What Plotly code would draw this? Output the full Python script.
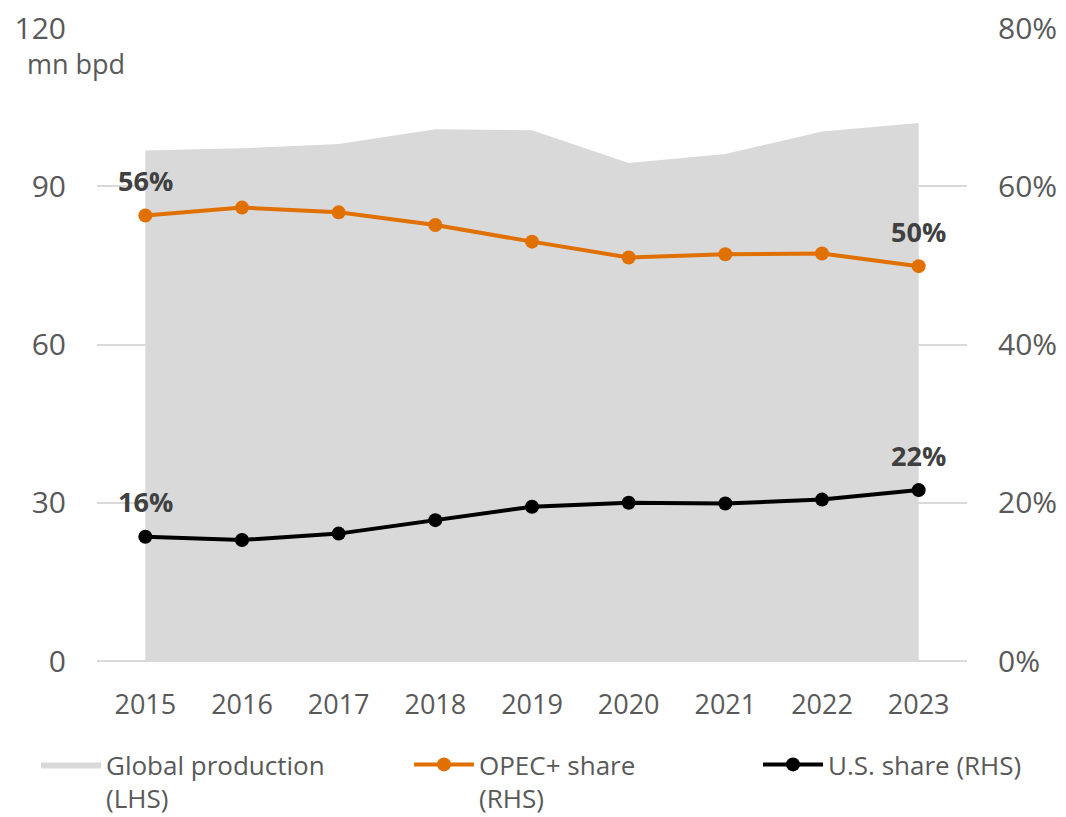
import plotly.graph_objects as go

years = ["2015", "2016", "2017", "2018", "2019", "2020", "2021", "2022", "2023"]
global_prod = [96.8, 97.2, 98.0, 100.8, 100.6, 94.4, 96.1, 100.4, 102.0]
opec_share = [56.3, 57.3, 56.7, 55.1, 53.0, 51.0, 51.4, 51.5, 49.9]
us_share = [15.7, 15.3, 16.1, 17.8, 19.5, 20.0, 19.9, 20.4, 21.6]
left_ticks = [0, 30, 60, 90, 120]
right_ticks = [0, 20, 40, 60, 80]

grey_txt = "#595959"
font_fam = "Open Sans, Noto Sans, sans-serif"
W, H = 1066, 817

fig = go.Figure()

fig.add_trace(go.Scatter(
    x=years, y=global_prod, name="Global production<br>(LHS)",
    mode="lines", fill="tozeroy", fillcolor="#d9d9d9",
    line=dict(width=0, color="#d9d9d9"), yaxis="y", legend="legend"))

fig.add_trace(go.Scatter(
    x=years, y=opec_share, name="OPEC+ share<br>(RHS)",
    mode="lines+markers", line=dict(color="#e07000", width=4),
    marker=dict(size=14, color="#e07000"), yaxis="y2", legend="legend"))

fig.add_trace(go.Scatter(
    x=years, y=us_share, name="U.S. share (RHS)",
    mode="lines+markers", line=dict(color="#000000", width=4),
    marker=dict(size=14, color="#000000"), yaxis="y2", legend="legend2"))

# end point labels (x given as category index: "2015" strings get read as indices)
for series in (opec_share, us_share):
    for i in (0, len(years) - 1):
        fig.add_annotation(x=i, y=series[i], xref="x", yref="y2",
                           text="<b>%d%%</b>" % round(series[i]), showarrow=False,
                           yshift=35, font=dict(size=27, color="#404040", family=font_fam))

# plot box in px: left 97, right 967, top 28, bottom 661
x0, x1 = 97 / W, 967 / W
ph = H - 28
ybot = (H - 661) / ph

fig.add_annotation(x=25 / W, y=(H - 63) / ph, xref="paper", yref="paper",
                   xanchor="left", yanchor="middle",
                   text="mn bpd", showarrow=False,
                   font=dict(size=27, color=grey_txt, family=font_fam))

leg_common = dict(orientation="h", xanchor="left", yanchor="top", valign="top",
                  font=dict(size=26, color=grey_txt), itemwidth=60,
                  entrywidth=298, entrywidthmode="pixels", traceorder="normal",
                  bgcolor="rgba(0,0,0,0)")

fig.update_layout(
    width=W, height=H,
    margin=dict(l=0, r=0, t=28, b=0, autoexpand=False),
    plot_bgcolor="white", paper_bgcolor="white",
    font=dict(family=font_fam, color=grey_txt),
    showlegend=True,
    legend=dict(x=36 / W, y=(H - 741) / ph, **leg_common),
    legend2=dict(x=758 / W, y=(H - 741) / ph, **leg_common),
    xaxis=dict(type="category", range=[-0.5, 8.5], domain=[x0, x1], showgrid=False,
               tickfont=dict(size=27, color=grey_txt), ticks="", automargin=False,
               ticklabelstandoff=25, showline=False, zeroline=False),
    yaxis=dict(range=[0, 120], tickvals=left_ticks, domain=[ybot, 1], automargin=False,
               showgrid=True, gridcolor="#d9d9d9", gridwidth=2,
               zeroline=True, zerolinecolor="#d9d9d9", zerolinewidth=2,
               tickfont=dict(size=30, color=grey_txt), ticklabelstandoff=30),
    yaxis2=dict(range=[0, 80], tickvals=right_ticks, ticktext=[f"{v}%" for v in right_ticks],
                overlaying="y", side="right", showgrid=False, zeroline=False, automargin=False,
                tickfont=dict(size=30, color=grey_txt), ticklabelstandoff=30),
)

fig.write_html("out.html", config={"displayModeBar": False},
               post_script="document.body.style.margin='0';")
